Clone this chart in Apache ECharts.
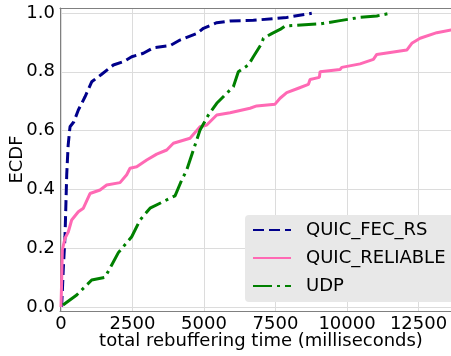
<!DOCTYPE html>
<html>
<head>
<meta charset="utf-8">
<script src="https://cdn.jsdelivr.net/npm/echarts@6/dist/echarts.min.js"></script>
<style>
  html, body { margin: 0; padding: 0; background: #fff; }
  #chart { width: 451px; height: 356px; }
</style>
</head>
<body>
<div id="chart"></div>
<script>
// ECDF points: [ms, fraction]
var seriesNames = ['QUIC_FEC_RS', 'QUIC_RELIABLE', 'UDP'];

var fecRs = [
  [20, 0.0], [50, 0.06], [80, 0.13], [140, 0.24], [200, 0.45], [250, 0.55],
  [315, 0.613], [450, 0.63], [606, 0.67], [840, 0.715], [1073, 0.766],
  [1400, 0.79], [1830, 0.823], [2200, 0.835], [2472, 0.851], [2880, 0.863],
  [3230, 0.882], [3812, 0.889], [4160, 0.908], [4745, 0.93], [4980, 0.948],
  [5445, 0.967], [5910, 0.973], [6725, 0.975], [7890, 0.985], [8767, 0.999]
];

var quicReliable = [
  [0, 0.0], [23, 0.09], [47, 0.194], [140, 0.234], [257, 0.256], [373, 0.296],
  [606, 0.324], [782, 0.336], [1014, 0.386], [1364, 0.398], [1597, 0.415],
  [2063, 0.423], [2297, 0.45], [2413, 0.472], [2647, 0.477], [2997, 0.5],
  [3347, 0.52], [3696, 0.534], [3929, 0.557], [4511, 0.574], [4861, 0.613],
  [5095, 0.619], [5445, 0.653], [5910, 0.661], [6609, 0.676], [6842, 0.684],
  [7484, 0.69], [7659, 0.71], [7892, 0.729], [8298, 0.744], [8648, 0.757],
  [8708, 0.774], [9033, 0.781], [9057, 0.8], [9757, 0.808], [9816, 0.815],
  [10456, 0.827], [10922, 0.842], [11040, 0.859], [12090, 0.874],
  [12265, 0.897], [12555, 0.914], [13139, 0.933], [13640, 0.942], [14100, 0.95]
];

var udp = [
  [70, 0.007], [549, 0.041], [899, 0.075], [1073, 0.092], [1539, 0.101],
  [1773, 0.143], [2005, 0.185], [2472, 0.239], [2763, 0.296], [3113, 0.336],
  [3812, 0.37], [3987, 0.378], [4221, 0.432], [4396, 0.466], [4628, 0.534],
  [4861, 0.602], [5153, 0.653], [5445, 0.693], [5910, 0.738], [6026, 0.749],
  [6200, 0.80], [6550, 0.823], [6725, 0.851], [7018, 0.897], [7076, 0.914],
  [7368, 0.93], [7659, 0.944], [7834, 0.956], [9057, 0.963], [9757, 0.974],
  [10456, 0.985], [11040, 0.99], [11505, 0.999]
];

var xTicks = [0, 2500, 5000, 7500, 10000, 12500];
var yTicks = [0, 0.2, 0.4, 0.6, 0.8, 1.0];

var chart = echarts.init(document.getElementById('chart'));

var font = 'DejaVu Sans';

function lineSeries(name, data, color, dash) {
  return {
    name: name,
    type: 'line',
    data: data,
    showSymbol: false,
    symbol: 'none',
    animation: false,
    lineStyle: { color: color, width: 3, type: dash },
    itemStyle: { color: color }
  };
}

var option = {
  backgroundColor: '#fff',
  animation: false,
  grid: { left: 60, top: 8, right: -11, bottom: 45, outerBoundsMode: 'none', containLabel: false },
  xAxis: [{
    type: 'value',
    min: -35,
    max: 14020,
    name: 'total rebuffering time (milliseconds)',
    nameLocation: 'middle',
    nameGap: 21,
    nameMoveOverlap: false,
    nameTextStyle: { fontFamily: font, fontSize: 18, color: '#000' },
    axisLine: { show: true, onZero: false, lineStyle: { color: '#808080', width: 1 } },
    axisTick: { show: false, customValues: xTicks },
    axisLabel: {
      customValues: xTicks, margin: 4, fontFamily: font, fontSize: 18, color: '#000',
      formatter: function(v) { return String(Math.round(v)); }
    },
    splitLine: { show: true, lineStyle: { color: '#dcdcdc', width: 1 } }
  }, {
    // top frame line only
    type: 'value',
    position: 'top',
    min: -35,
    max: 14020,
    axisLine: { show: true, onZero: false, lineStyle: { color: '#808080', width: 1 } },
    axisTick: { show: false },
    axisLabel: { show: false },
    splitLine: { show: false }
  }],
  yAxis: {
    type: 'value',
    min: -0.0136,
    max: 1.017,
    name: 'ECDF',
    nameLocation: 'middle',
    nameGap: 34,
    nameMoveOverlap: false,
    nameTextStyle: { fontFamily: font, fontSize: 18, color: '#000' },
    axisLine: { show: true, onZero: false, lineStyle: { color: '#808080', width: 1 } },
    axisTick: { show: false, customValues: yTicks },
    axisLabel: {
      customValues: yTicks, margin: 5, fontFamily: font, fontSize: 18, color: '#000',
      formatter: function(v) { return v.toFixed(1); }
    },
    splitLine: { show: true, lineStyle: { color: '#dcdcdc', width: 1 } }
  },
  legend: {
    data: seriesNames,
    orient: 'vertical',
    left: 245,
    top: 215,
    backgroundColor: '#e8e8e8',
    borderRadius: 4,
    padding: [6, 12, 7, 7],
    itemWidth: 38,
    itemHeight: 14,
    itemGap: 10,
    itemStyle: { color: 'transparent', borderWidth: 0, opacity: 0 },
    textStyle: { fontFamily: font, fontSize: 18, color: '#000', padding: [0, 0, 0, 10] }
  },
  series: [
    lineSeries('QUIC_FEC_RS', fecRs, '#00008b', [11, 5]),
    lineSeries('QUIC_RELIABLE', quicReliable, '#ff69b4', 'solid'),
    lineSeries('UDP', udp, '#008000', [19, 5, 3, 5])
  ]
};

chart.setOption(option);
</script>
</body>
</html>
